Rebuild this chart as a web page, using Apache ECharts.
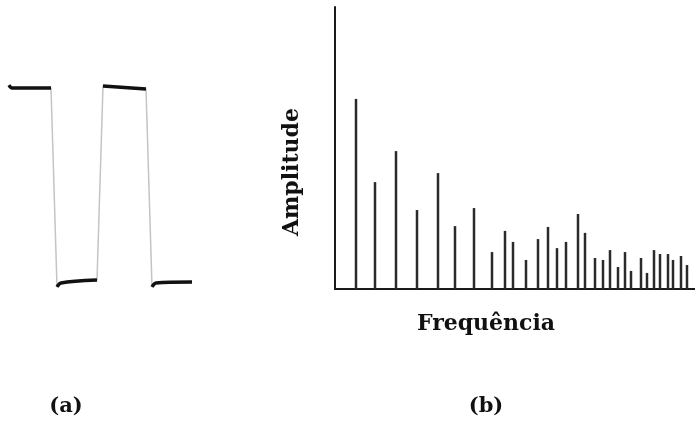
<!DOCTYPE html>
<html>
<head>
<meta charset="utf-8">
<script src="https://cdn.jsdelivr.net/npm/echarts@6.0.0/dist/echarts.min.js"></script>
<style>
  html, body { margin: 0; padding: 0; background: #fff; }
  #chart { width: 695px; height: 424px; }
</style>
</head>
<body>
<div id="chart"></div>
<script>
// (a) square wave: time and level (1 = high, 0 = low)
const waveTime = [9, 12, 51, 57, 61, 97, 103, 146, 152, 156, 192];
const waveLevel = [1.015, 1.0, 1.0, -0.02, 0.0, 0.015, 1.01, 0.995, -0.02, 0.0, 0.005];

// (b) spectrum: harmonic frequencies and amplitudes
const freqs = [21, 40, 61, 82, 103, 120, 139, 157, 170, 178, 191, 203, 213, 222, 231,
  243, 250, 260, 268, 275, 283, 290, 296, 306, 312, 319, 325, 333, 338, 346, 352];
const amps = [67.4, 37.9, 48.9, 28.0, 41.1, 22.3, 28.7, 13.1, 20.6, 16.7, 10.3, 17.7, 22.0, 14.5, 16.7,
  26.6, 19.9, 11.0, 10.3, 13.8, 7.8, 13.1, 6.4, 11.0, 5.7, 13.8, 12.4, 12.4, 10.3, 11.7, 8.5];

const labelFont = { fontFamily: "DejaVu Serif", fontWeight: "bold", fontSize: 22, color: "#111" };
const panelFont = { fontFamily: "DejaVu Serif", fontWeight: "bold", fontSize: 21, color: "#111" };

const wavePts = waveTime.map((t, i) => [t, waveLevel[i]]);
// flat parts only: break the line where the level jumps
const flatPts = [];
wavePts.forEach((p, i) => {
  if (i > 0 && Math.abs(p[1] - wavePts[i - 1][1]) > 0.5) flatPts.push([null, null]);
  flatPts.push(p);
});

const chart = echarts.init(document.getElementById("chart"));
chart.setOption({
  animation: false,
  backgroundColor: "#fff",
  title: [
    { text: "(a)", left: 61, top: 391, textAlign: "center", textStyle: panelFont },
    { text: "(b)", left: 481, top: 391, textAlign: "center", textStyle: panelFont },
  ],
  grid: [
    { left: 0, width: 200, top: 88, height: 195 },
    { left: 335, right: 0, top: 7, bottom: 135 },
  ],
  xAxis: [
    { gridIndex: 0, type: "value", min: 0, max: 200, show: false },
    {
      gridIndex: 1, type: "value", min: 0, max: 360,
      name: "Frequência", nameLocation: "middle", nameGap: 24,
      nameTextStyle: Object.assign({ padding: [0, 58, 0, 0] }, labelFont),
      axisLine: { show: true, onZero: false, lineStyle: { color: "#1a1a1a", width: 2 } },
      axisTick: { show: false }, axisLabel: { show: false }, splitLine: { show: false },
    },
  ],
  yAxis: [
    { gridIndex: 0, type: "value", min: 0, max: 1, show: false },
    {
      gridIndex: 1, type: "value", min: 0, max: 100,
      name: "Amplitude", nameLocation: "middle", nameGap: 32, nameRotate: 90,
      nameTextStyle: Object.assign({ padding: [0, 48, 0, 0] }, labelFont),
      axisLine: { show: true, lineStyle: { color: "#1a1a1a", width: 2 } },
      axisTick: { show: false }, axisLabel: { show: false }, splitLine: { show: false },
    },
  ],
  series: [
    {
      type: "line", xAxisIndex: 0, yAxisIndex: 0, data: wavePts,
      showSymbol: false, clip: false,
      lineStyle: { color: "#c4c4c4", width: 1.5 },
    },
    {
      type: "line", xAxisIndex: 0, yAxisIndex: 0, data: flatPts,
      showSymbol: false, clip: false, connectNulls: false, smooth: 0.3,
      lineStyle: { color: "#111", width: 3.5 },
    },
    {
      type: "bar", xAxisIndex: 1, yAxisIndex: 1, barWidth: 2.5,
      data: freqs.map((f, i) => [f, amps[i]]),
      itemStyle: { color: "#2a2a2a" },
    },
  ],
});
</script>
</body>
</html>
